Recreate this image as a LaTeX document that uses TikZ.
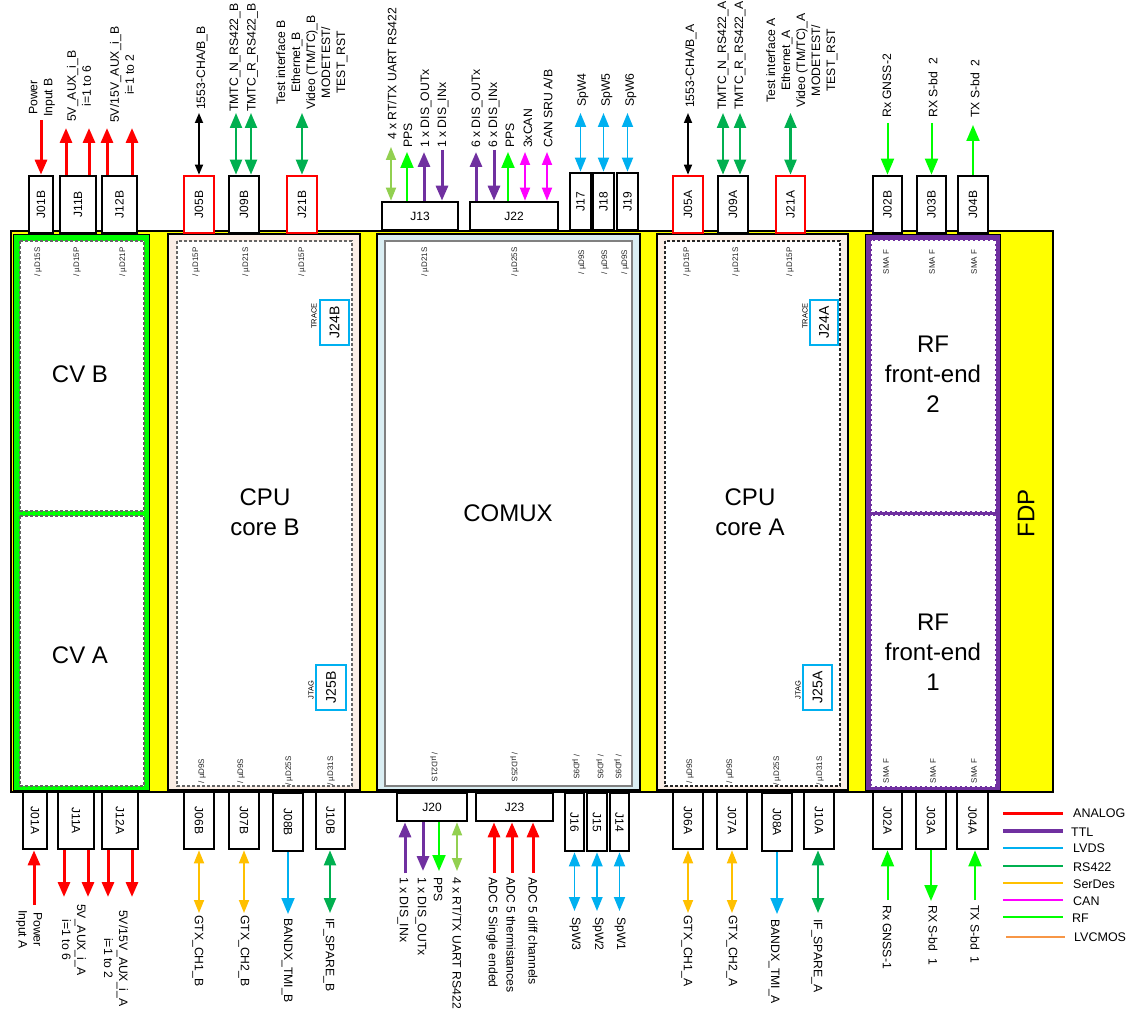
\documentclass[tikz,border=0pt]{standalone}
\usepackage{fontspec}
\setmainfont{Liberation Sans}
\usetikzlibrary{arrows.meta}
\definecolor{cAnalog}{HTML}{FF0000}
\definecolor{cTTL}{HTML}{7030A0}
\definecolor{cLVDS}{HTML}{00B0F0}
\definecolor{cRS}{HTML}{00B050}
\definecolor{cSer}{HTML}{FFC000}
\definecolor{cCAN}{HTML}{FF00FF}
\definecolor{cRF}{HTML}{00FF00}
\definecolor{cLVC}{HTML}{F79646}
\definecolor{cLG}{HTML}{92D050}
\definecolor{cPeach}{HTML}{FBEEE6}
\definecolor{cBlue}{HTML}{DAEEF3}
\definecolor{cFDP}{HTML}{FFFF00}
\begin{document}
\begin{tikzpicture}[x=1pt,y=-1pt,
  conn/.style={draw=black,line width=2.7pt,fill=white,inner sep=0pt,font=\fontsize{12}{14}\selectfont},
  connr/.style={conn,draw=red},
  jtagbox/.style={draw=cLVDS,line width=2.2pt,fill=white,inner sep=0pt,minimum height=45,font=\fontsize{14}{16}\selectfont},
  lbl/.style={font=\fontsize{12.2}{15}\selectfont,align=center,inner sep=0pt},
  lblup/.style={lbl,rotate=90,anchor=west},
  lbldn/.style={lbl,rotate=-90,anchor=west},
  big/.style={font=\fontsize{24}{30}\selectfont,align=center,inner sep=0pt},
  tk/.style={font=\fontsize{8}{9}\selectfont,inner sep=0pt,rotate=90,text=black!85},
  tiny/.style={font=\fontsize{7.5}{8}\selectfont,inner sep=0pt,rotate=90},
  leg/.style={font=\fontsize{12.5}{14}\selectfont,inner sep=0pt,anchor=west},
  dashbox/.style={fill=white,draw=black!60,line width=1.2pt,dash pattern=on 3pt off 2pt},
  an/.style={draw=cAnalog,line width=3pt,-{Triangle[length=15pt,width=12pt]}},
  ttl/.style={draw=cTTL,line width=3pt,-{Triangle[length=15pt,width=12pt]}},
  rsd/.style={draw=cRS,line width=2.2pt,{Triangle[length=15pt,width=12pt]}-{Triangle[length=15pt,width=12pt]}},
  blkd/.style={draw=black,line width=1.7pt,{Triangle[length=10pt,width=8pt]}-{Triangle[length=10pt,width=8pt]}},
  lvd/.style={draw=cLVDS,line width=1.8pt,{Triangle[length=14pt,width=11pt]}-{Triangle[length=14pt,width=11pt]}},
  lvs/.style={draw=cLVDS,line width=1.8pt,-{Triangle[length=16pt,width=13pt]}},
  serd/.style={draw=cSer,line width=1.8pt,{Triangle[length=13pt,width=10pt]}-{Triangle[length=13pt,width=10pt]}},
  cand/.style={draw=cCAN,line width=1.8pt,{Triangle[length=13pt,width=10pt]}-{Triangle[length=13pt,width=10pt]}},
  lgd/.style={draw=cLG,line width=1.8pt,{Triangle[length=13pt,width=10pt]}-{Triangle[length=13pt,width=10pt]}},
  rfs/.style={draw=cRF,line width=2pt,-{Triangle[length=16pt,width=13pt]}},
]
\useasboundingbox (0,0) rectangle (1128,1014);
\fill[white] (0,0) rectangle (1128,1014);

% ---------- boards ----------
\draw[fill=cFDP,line width=1.4pt] (11,231) rectangle (1053,792);
\draw[fill=cRF,line width=0.8pt] (13,234) rectangle (149,790);
\draw[dashbox] (20,241) rectangle (144,511);
\draw[dashbox] (20,516) rectangle (144,786);
\draw[fill=cPeach,line width=1.2pt] (168,234) rectangle (360,790);
\draw[dashbox] (177,241) rectangle (352,786);
\draw[fill=cBlue,line width=1.2pt] (377,234) rectangle (640,790);
\draw[fill=white,draw=black!50,line width=1.8pt] (385,241) rectangle (632,786);
\draw[fill=cPeach,line width=1.2pt] (657,234) rectangle (848,790);
\draw[dashbox,draw=black!85] (665,241) rectangle (840,786);
\draw[fill=cTTL,line width=0.8pt] (865,234) rectangle (1000,790);
\draw[dashbox,draw=white] (872,241) rectangle (995,511);
\draw[dashbox,draw=white] (872,516) rectangle (995,786);

\node[big] (cvb) at (80,374) {CV B};
\node[big] (cva) at (80,655) {CV A};
\node[big] (cpub) at (265,512) {CPU\\core B};
\node[big] (comux) at (508,513) {COMUX};
\node[big] (cpua) at (750,512) {CPU\\core A};
\node[big] (rf2) at (933,374) {RF\\front-end\\2};
\node[big] (rf1) at (933,652) {RF\\front-end\\1};
\node[big,rotate=90] (fdp) at (1026,513) {FDP};

% ---------- JTAG / TRACE ----------
\node[jtagbox,minimum width=29] (J24B) at (334.5,322.5) {\rotatebox{90}{J24B}};
\node[jtagbox,minimum width=30] (J25B) at (331,687.5) {\rotatebox{90}{J25B}};
\node[jtagbox,minimum width=28] (J24A) at (824,322.5) {\rotatebox{90}{J24A}};
\node[jtagbox,minimum width=29] (J25A) at (817.5,687.5) {\rotatebox{90}{J25A}};
\node[tiny] (trB) at (314,316) {TRACE};
\node[tiny] (jtB) at (311,690) {JTAG};
\node[tiny] (trA) at (805,316) {TRACE};
\node[tiny] (jtA) at (798,690) {JTAG};

% ---------- small connector texts ----------
\foreach \x/\t [count=\i] in {38/{/ µD15S},77/{/ µD15P},123/{/ µD21P},196/{/ µD15P},246/{/ µD21S},302/{/ µD15P},425/{/ µD21S},515/{/ µD25S},582/{/ µD9S},605/{/ µD9S},625/{/ µD9S},687/{/ µD15P},736/{/ µD21S},790/{/ µD15P},886/{SMA F},932/{SMA F},974/{SMA F}}
  \node[tk] (tt\i) at (\x,262) {\t};
\foreach \x/\t [count=\i] in {202/{/ µD9S},241/{/ µD9S},289/{/ µD25S},331/{/ µD31S},690/{/ µD9S},730/{/ µD9S},777/{/ µD25S},820/{/ µD31S},886/{SMA F},933/{SMA F},974/{SMA F}}
  \node[tk] (tb\i) at (\x,771) {\t};
\foreach \x/\t [count=\i] in {434/{/ µD21S},514/{/ µD25S},576/{/ µD9S},600/{/ µD9S},618/{/ µD9S}}
  \node[tk,rotate=180] (tc\i) at (\x,767) {\t};

% ---------- top connectors ----------
\node[conn,minimum width=24,minimum height=57] (J01B) at (41,204.5) {\rotatebox{90}{J01B}};
\node[conn,minimum width=36,minimum height=57] (J11B) at (78,204.5) {\rotatebox{90}{J11B}};
\node[conn,minimum width=35,minimum height=57] (J12B) at (119.5,204.5) {\rotatebox{90}{J12B}};
\node[connr,minimum width=30,minimum height=57] (J05B) at (199,204.5) {\rotatebox{90}{J05B}};
\node[conn,minimum width=30,minimum height=57] (J09B) at (244,204.5) {\rotatebox{90}{J09B}};
\node[connr,minimum width=30,minimum height=57] (J21B) at (302,204.5) {\rotatebox{90}{J21B}};
\node[conn,minimum width=76,minimum height=28] (J13) at (420,216) {J13};
\node[conn,minimum width=88,minimum height=28] (J22) at (514,216) {J22};
\node[conn,minimum width=21,minimum height=57] (J17) at (580.5,201.5) {\rotatebox{90}{J17}};
\node[conn,minimum width=21,minimum height=57] (J18) at (603.5,201.5) {\rotatebox{90}{J18}};
\node[conn,minimum width=21,minimum height=57] (J19) at (627.5,201.5) {\rotatebox{90}{J19}};
\node[connr,minimum width=30,minimum height=57] (J05A) at (688,204.5) {\rotatebox{90}{J05A}};
\node[conn,minimum width=30,minimum height=57] (J09A) at (733,204.5) {\rotatebox{90}{J09A}};
\node[connr,minimum width=29,minimum height=57] (J21A) at (790.5,204.5) {\rotatebox{90}{J21A}};
\node[conn,minimum width=29,minimum height=57] (J02B) at (887.5,204.5) {\rotatebox{90}{J02B}};
\node[conn,minimum width=29,minimum height=57] (J03B) at (931.5,204.5) {\rotatebox{90}{J03B}};
\node[conn,minimum width=30,minimum height=57] (J04B) at (973,204.5) {\rotatebox{90}{J04B}};

% ---------- bottom connectors ----------
\node[conn,minimum width=24,minimum height=57] (J01A) at (35,820.5) {\rotatebox{-90}{J01A}};
\node[conn,minimum width=36,minimum height=57] (J11A) at (76,820.5) {\rotatebox{-90}{J11A}};
\node[conn,minimum width=36,minimum height=57] (J12A) at (120,820.5) {\rotatebox{-90}{J12A}};
\node[conn,minimum width=30,minimum height=57] (J06B) at (199,820.5) {\rotatebox{-90}{J06B}};
\node[conn,minimum width=30,minimum height=57] (J07B) at (244,820.5) {\rotatebox{-90}{J07B}};
\node[conn,minimum width=30,minimum height=58] (J08B) at (288,822) {\rotatebox{-90}{J08B}};
\node[conn,minimum width=29,minimum height=57] (J10B) at (330.5,820.5) {\rotatebox{-90}{J10B}};
\node[conn,minimum width=70,minimum height=28] (J20) at (432,807) {J20};
\node[conn,minimum width=77,minimum height=28] (J23) at (514.5,807) {J23};
\node[conn,minimum width=19,minimum height=58] (J16) at (574.5,822) {\rotatebox{-90}{J16}};
\node[conn,minimum width=20,minimum height=58] (J15) at (597,822) {\rotatebox{-90}{J15}};
\node[conn,minimum width=19,minimum height=58] (J14) at (619.5,822) {\rotatebox{-90}{J14}};
\node[conn,minimum width=30,minimum height=57] (J06A) at (688,820.5) {\rotatebox{-90}{J06A}};
\node[conn,minimum width=30,minimum height=57] (J07A) at (732,820.5) {\rotatebox{-90}{J07A}};
\node[conn,minimum width=30,minimum height=58] (J08A) at (777,822) {\rotatebox{-90}{J08A}};
\node[conn,minimum width=30,minimum height=57] (J10A) at (819,820.5) {\rotatebox{-90}{J10A}};
\node[conn,minimum width=29,minimum height=57] (J02A) at (887.5,820.5) {\rotatebox{-90}{J02A}};
\node[conn,minimum width=30,minimum height=57] (J03A) at (931,820.5) {\rotatebox{-90}{J03A}};
\node[conn,minimum width=31,minimum height=57] (J04A) at (972.5,820.5) {\rotatebox{-90}{J04A}};

% ---------- top arrows ----------
\coordinate (pB) at (41,120);  \draw[an] (pB) -- (J01B.north -| pB);
\coordinate (a11a) at (66,128); \draw[an] (J11B.north -| a11a) -- (a11a);
\coordinate (a11b) at (89,128); \draw[an] (J11B.north -| a11b) -- (a11b);
\coordinate (a12a) at (107,128); \draw[an] (J12B.north -| a12a) -- (a12a);
\coordinate (a12b) at (132,128); \draw[an] (J12B.north -| a12b) -- (a12b);
\coordinate (a05b) at (199,113); \draw[blkd] (a05b) -- (J05B.north);
\coordinate (a09a) at (236,113); \draw[rsd] (a09a) -- (J09B.north -| a09a);
\coordinate (a09b) at (251,113); \draw[rsd] (a09b) -- (J09B.north -| a09b);
\coordinate (a21b) at (302,113); \draw[rsd] (a21b) -- (J21B.north);
\coordinate (a13a) at (391,147); \draw[lgd] (a13a) -- (J13.north -| a13a);
\coordinate (a13b) at (407,152); \draw[rfs] (J13.north -| a13b) -- (a13b);
\coordinate (a13c) at (424,152); \draw[ttl] (J13.north -| a13c) -- (a13c);
\coordinate (a13d) at (442,150); \draw[ttl] (a13d) -- (J13.north -| a13d);
\coordinate (a22a) at (476,152); \draw[ttl] (J22.north -| a22a) -- (a22a);
\coordinate (a22b) at (494,150); \draw[ttl] (a22b) -- (J22.north -| a22b);
\coordinate (a22c) at (508,152); \draw[rfs] (J22.north -| a22c) -- (a22c);
\coordinate (a22d) at (525,152); \draw[cand] (a22d) -- (J22.north -| a22d);
\coordinate (a22e) at (547,152); \draw[cand] (a22e) -- (J22.north -| a22e);
\coordinate (a17) at (580.5,113); \draw[lvd] (a17) -- (J17.north);
\coordinate (a18) at (603.5,113); \draw[lvd] (a18) -- (J18.north);
\coordinate (a19) at (627.5,113); \draw[lvd] (a19) -- (J19.north);
\coordinate (a05a) at (688,113); \draw[blkd] (a05a) -- (J05A.north);
\coordinate (a09c) at (723,113); \draw[rsd] (a09c) -- (J09A.north -| a09c);
\coordinate (a09d) at (740,113); \draw[rsd] (a09d) -- (J09A.north -| a09d);
\coordinate (a21a) at (790.5,113); \draw[rsd] (a21a) -- (J21A.north);
\coordinate (a02b) at (887.5,123); \draw[rfs] (a02b) -- (J02B.north);
\coordinate (a03b) at (931.5,123); \draw[rfs] (a03b) -- (J03B.north);
\coordinate (a04b) at (973,125); \draw[rfs] (J04B.north) -- (a04b);

% ---------- top labels ----------
\node[lblup] (lPB) at (42,117) {Power\\Input B};
\node[lblup] (l11B) at (79,122) {5V\_AUX\_i\_B\\i=1 to 6};
\node[lblup] (l12B) at (122,123) {5V/15V\_AUX\_i\_B\\i=1 to 2};
\node[lblup] (l05B) at (202,110) {1553-CHA/B\_B};
\node[lblup] (l09B1) at (235,112) {TMTC\_N\_RS422\_B};
\node[lblup] (l09B2) at (252.5,112) {TMTC\_R\_RS422\_B};
\node[lblup] (l21B) at (312,110) {Test interface B\\Ethernet\_B\\Video (TM/TC)\_B\\MODETEST/\\TEST\_RST};
\node[lblup] (l13a) at (392,140) {4 x RT/TX UART RS422};
\node[lblup] (l13b) at (408,148) {PPS};
\node[lblup] (l13c) at (426,148) {1 x DIS\_OUTx};
\node[lblup] (l13d) at (443,148) {1 x DIS\_INx};
\node[lblup] (l22a) at (477,148) {6 x DIS\_OUTx};
\node[lblup] (l22b) at (494,148) {6 x DIS\_INx};
\node[lblup] (l22c) at (510,148) {PPS};
\node[lblup] (l22d) at (528,148) {3xCAN};
\node[lblup] (l22e) at (548,148) {CAN SRU A/B};
\node[lblup] (l17) at (583,107) {SpW4};
\node[lblup] (l18) at (607,107) {SpW5};
\node[lblup] (l19) at (631,107) {SpW6};
\node[lblup] (l05A) at (691,108) {1553-CHA/B\_A};
\node[lblup] (l09A1) at (723,110) {TMTC\_N\_RS422\_A};
\node[lblup] (l09A2) at (740,110) {TMTC\_R\_RS422\_A};
\node[lblup] (l21A) at (802,108) {Test interface A\\Ethernet\_A\\Video (TM/TC)\_A\\MODETEST/\\TEST\_RST};
\node[lblup] (l02B) at (887,118) {Rx GNSS-2};
\node[lblup] (l03B) at (933,118) {RX S-bd\ \ 2};
\node[lblup] (l04B) at (975,118) {TX S-bd\ \ 2};

% ---------- bottom arrows ----------
\coordinate (pA) at (34,905);  \draw[an] (pA) -- (J01A.south -| pA);
\coordinate (b11a) at (64,897); \draw[an] (J11A.south -| b11a) -- (b11a);
\coordinate (b11b) at (88,897); \draw[an] (J11A.south -| b11b) -- (b11b);
\coordinate (b12a) at (108,897); \draw[an] (J12A.south -| b12a) -- (b12a);
\coordinate (b12b) at (132,897); \draw[an] (J12A.south -| b12b) -- (b12b);
\coordinate (b06b) at (199,913); \draw[serd] (J06B.south) -- (b06b);
\coordinate (b07b) at (244,913); \draw[serd] (J07B.south) -- (b07b);
\coordinate (b08b) at (288,914); \draw[lvs] (J08B.south) -- (b08b);
\coordinate (b10b) at (330,913); \draw[rsd] (J10B.south -| b10b) -- (b10b);
\coordinate (b20a) at (405,873); \draw[ttl] (b20a) -- (J20.south -| b20a);
\coordinate (b20b) at (423,871); \draw[ttl] (J20.south -| b20b) -- (b20b);
\coordinate (b20c) at (439,871); \draw[rfs] (J20.south -| b20c) -- (b20c);
\coordinate (b20d) at (457,871); \draw[lgd] (J20.south -| b20d) -- (b20d);
\coordinate (b23a) at (494,873); \draw[an] (b23a) -- (J23.south -| b23a);
\coordinate (b23b) at (512,873); \draw[an] (b23b) -- (J23.south -| b23b);
\coordinate (b23c) at (533,873); \draw[an] (b23c) -- (J23.south -| b23c);
\coordinate (b16) at (574.5,911); \draw[lvd] (J16.south) -- (b16);
\coordinate (b15) at (597,911); \draw[lvd] (J15.south) -- (b15);
\coordinate (b14) at (619.5,911); \draw[lvd] (J14.south) -- (b14);
\coordinate (b06a) at (688,913); \draw[serd] (J06A.south) -- (b06a);
\coordinate (b07a) at (732,913); \draw[serd] (J07A.south) -- (b07a);
\coordinate (b08a) at (777,914); \draw[lvs] (J08A.south) -- (b08a);
\coordinate (b10a) at (818,913); \draw[rsd] (J10A.south -| b10a) -- (b10a);
\coordinate (b02a) at (887.5,900); \draw[rfs] (b02a) -- (J02A.south);
\coordinate (b03a) at (931,901); \draw[rfs] (J03A.south) -- (b03a);
\coordinate (b04a) at (975,900); \draw[rfs] (b04a) -- (J04A.south -| b04a);

% ---------- bottom labels ----------
\node[lbldn] (lPA) at (29,910) {Power\\Input A};
\node[lbldn] (l11A) at (74,904) {5V\_AUX\_i\_A\\i=1 to 6};
\node[lbldn] (l12A) at (116,910) {5V/15V\_AUX\_i\_A\\i=1 to 2};
\node[lbldn] (l06B) at (198,915) {GTX\_CH1\_B};
\node[lbldn] (l07B) at (244,915) {GTX\_CH2\_B};
\node[lbldn] (l08B) at (287,918) {BANDX\_TMI\_B};
\node[lbldn] (l10B) at (329,918) {IF\_SPARE\_B};
\node[lbldn] (l20a) at (403,877) {1 x DIS\_INx};
\node[lbldn] (l20b) at (421,877) {1 x DIS\_OUTx};
\node[lbldn] (l20c) at (438,877) {PPS};
\node[lbldn] (l20d) at (457,877) {4 x RT/TX UART RS422};
\node[lbldn] (l23a) at (492,877) {ADC 5 Single ended};
\node[lbldn] (l23b) at (511,877) {ADC 5 thermistances};
\node[lbldn] (l23c) at (533,877) {ADC 5 diff channels};
\node[lbldn] (l16) at (575,917) {SpW3};
\node[lbldn] (l15) at (598,917) {SpW2};
\node[lbldn] (l14) at (620,917) {SpW1};
\node[lbldn] (l06A) at (687,915) {GTX\_CH1\_A};
\node[lbldn] (l07A) at (732,915) {GTX\_CH2\_A};
\node[lbldn] (l08A) at (774,919) {BANDX\_TMI\_A};
\node[lbldn] (l10A) at (817,919) {IF\_SPARE\_A};
\node[lbldn] (l02A) at (887,905) {Rx GNSS-1};
\node[lbldn] (l03A) at (933,905) {RX S-bd\ \ 1};
\node[lbldn] (l04A) at (975,905) {TX S-bd\ \ 1};

% ---------- legend ----------
\draw[cAnalog,line width=3pt] (1003,813) -- (1063,813); \node[leg] (gA) at (1073,813) {ANALOG};
\draw[cTTL,line width=3.2pt] (1003,831) -- (1063,831); \node[leg] (gT) at (1071,832) {TTL};
\draw[cLVDS,line width=1.5pt] (1003,848) -- (1063,848); \node[leg] (gL) at (1073,848) {LVDS};
\draw[cRS,line width=1.5pt] (1003,866) -- (1063,866); \node[leg] (gR) at (1073,867) {RS422};
\draw[cSer,line width=1.5pt] (1003,883) -- (1063,883); \node[leg] (gS) at (1073,884) {SerDes};
\draw[cCAN,line width=1.5pt] (1003,900) -- (1063,900); \node[leg] (gC) at (1073,901) {CAN};
\draw[cRF,line width=1.5pt] (1003,917) -- (1063,917); \node[leg] (gF) at (1072,918) {RF};
\draw[cLVC,line width=2pt] (1006,937) -- (1065,937); \node[leg] (gV) at (1074,937) {LVCMOS};
\end{tikzpicture}
\end{document}
